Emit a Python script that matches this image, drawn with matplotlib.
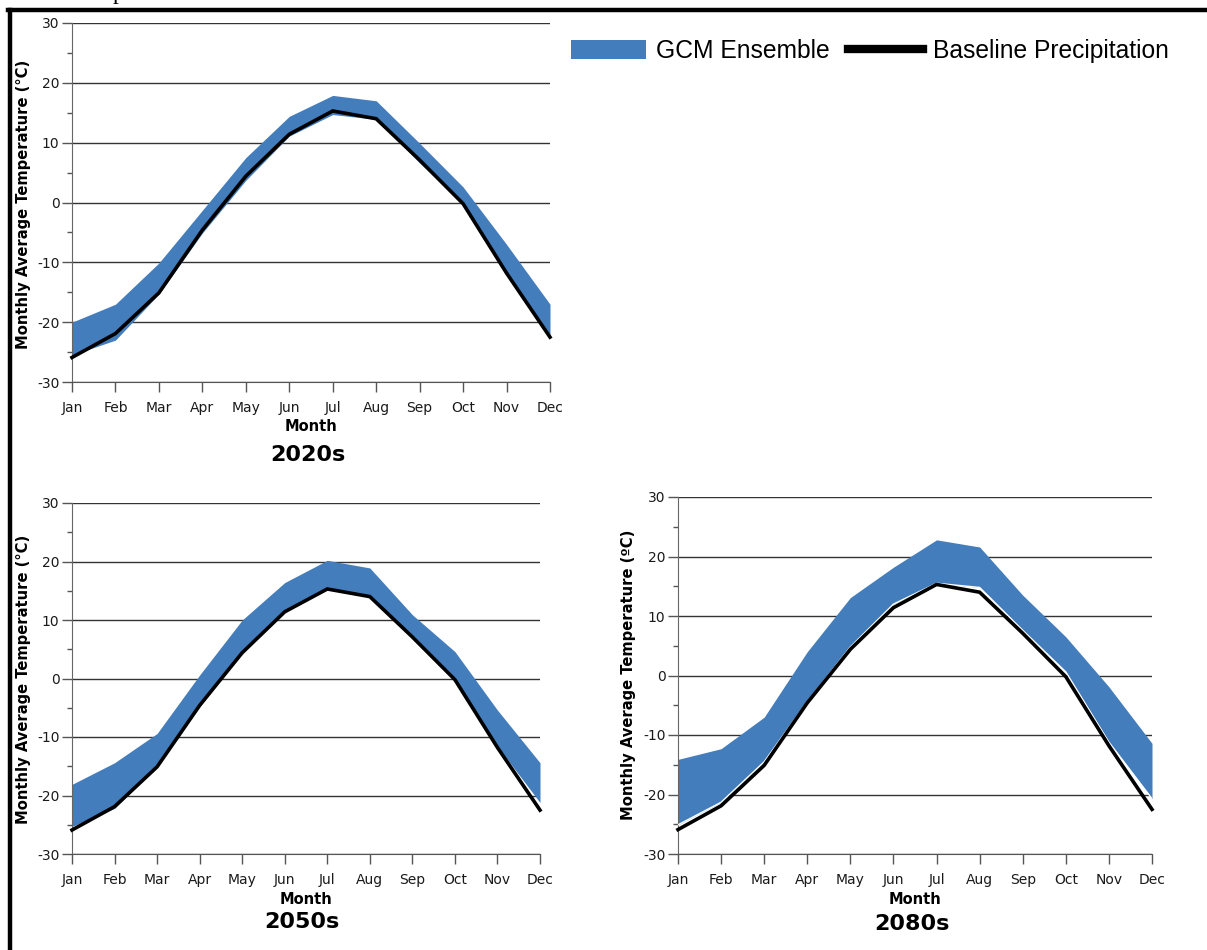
import numpy as np
import matplotlib.pyplot as plt
from matplotlib.patches import Patch
from matplotlib.lines import Line2D
from matplotlib.ticker import MultipleLocator

plt.rcParams['axes.unicode_minus'] = False

months = ['Jan', 'Feb', 'Mar', 'Apr', 'May', 'Jun', 'Jul', 'Aug', 'Sep', 'Oct', 'Nov', 'Dec']

# Baseline monthly mean temperature (degC)
baseline = [-25.9, -21.9, -15.1, -4.6, 4.4, 11.4, 15.3, 14.0, 7.1, -0.2, -11.8, -22.5]

# GCM ensemble range per period (low / high)
low_2020s = [-25.5, -23.0, -15.3, -5.1, 3.7, 11.1, 14.7, 13.9, 6.6, -0.2, -11.8, -22.1]
high_2020s = [-20.0, -17.0, -10.1, -1.3, 7.5, 14.4, 17.9, 17.0, 9.9, 2.6, -7.0, -17.0]

low_2050s = [-25.3, -22.2, -15.1, -4.8, 4.3, 11.5, 15.5, 14.0, 7.2, -0.1, -11.6, -21.2]
high_2050s = [-18.1, -14.4, -9.4, 0.6, 10.0, 16.4, 20.2, 18.9, 10.9, 4.6, -5.4, -14.4]

low_2080s = [-25.1, -21.3, -14.5, -4.4, 4.8, 12.0, 15.5, 14.8, 7.6, 0.6, -11.2, -20.7]
high_2080s = [-14.1, -12.3, -7.0, 4.0, 13.1, 18.2, 22.8, 21.6, 13.5, 6.5, -1.9, -11.4]

band_color = '#437DBB'
W, H = 1207, 950


def px(x, y):
    return x / W, 1 - y / H


def rect(x0, y0, x1, y1):
    return [x0 / W, 1 - y1 / H, (x1 - x0) / W, (y1 - y0) / H]


fig = plt.figure(figsize=(W / 100, H / 100), dpi=100)

panels = [
    (rect(72, 23, 550, 382), low_2020s, high_2020s, '2020s', (24, 204), (311, 427), (308, 455), '\u00b0', False),
    (rect(72, 503, 540, 854), low_2050s, high_2050s, '2050s', (24, 679), (306, 899), (302, 922), '\u00b0', False),
    (rect(678, 497, 1152, 854), low_2080s, high_2080s, '2080s', (628, 675), (915, 899), (912, 924), '\u00ba', True),
]

x = np.arange(len(months))
for box, lo, hi, period, ylab_xy, xlab_xy, title_xy, deg, white_edge in panels:
    ax = fig.add_axes(box)
    ax.fill_between(x, lo, hi, color=band_color, lw=0, zorder=2)
    if white_edge:
        ax.plot(x, lo, color='white', lw=1.0, zorder=3)
    ax.plot(x, baseline, color='black', lw=2.6, zorder=4, clip_on=False,
            solid_joinstyle='miter')

    ax.set_xlim(0, 11)
    ax.set_ylim(-30, 30)
    ax.set_xticks(x)
    ax.set_xticklabels(months)
    ax.yaxis.set_major_locator(MultipleLocator(10))
    ax.yaxis.set_minor_locator(MultipleLocator(5))
    ax.tick_params(axis='both', which='major', length=7, width=1, color='#555555',
                   labelsize=10, labelcolor='#1a1a1a', pad=2)
    ax.tick_params(axis='x', pad=7)
    ax.tick_params(axis='y', which='minor', length=3.3, width=1, color='#555555')
    ax.grid(axis='y', color='#333333', lw=1, zorder=1)

    for side in ['top', 'right']:
        ax.spines[side].set_visible(False)
    ax.spines['left'].set_color('#666666')
    ax.spines['bottom'].set_color('#555555')

    fig.text(*px(*ylab_xy), f'Monthly Average Temperature ({deg}C)', rotation=90,
             ha='center', va='center', fontsize=10.6, fontweight='bold')
    fig.text(*px(*xlab_xy), 'Month', ha='center', va='center',
             fontsize=10.5, fontweight='bold')
    fig.text(*px(*title_xy), period, ha='center', va='center',
             fontsize=16, fontweight='bold')

# legend
handles = [Patch(facecolor=band_color, edgecolor='none'),
           Line2D([], [], color='black', lw=6)]
fig.legend(handles, ['GCM Ensemble', 'Baseline Precipitation'],
           loc='center left', bbox_to_anchor=px(571, 51), ncol=2, frameon=False,
           prop={'family': 'Liberation Sans', 'size': 17.7},
           handlelength=3.05, handleheight=0.85, handletextpad=0.4,
           columnspacing=0.75, borderpad=0, borderaxespad=0)

# page frame
fig.add_artist(Line2D([8 / W, 1], [1 - 10 / H] * 2, color='black', lw=3.2,
                      transform=fig.transFigure, solid_capstyle='projecting'))
fig.add_artist(Line2D([10 / W] * 2, [0, 1 - 10 / H], color='black', lw=3.2,
                      transform=fig.transFigure, solid_capstyle='projecting'))
fig.text(113 / W, 1 + 1 / H, 'p', family='Liberation Serif', fontsize=17,
         va='baseline', ha='left')

fig.savefig('out.png', dpi=100)
